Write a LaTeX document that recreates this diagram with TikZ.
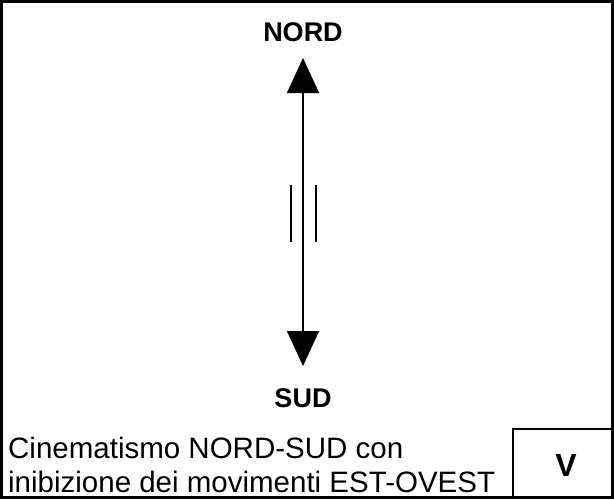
\documentclass[tikz,border=0pt]{standalone}
\usepackage{fontspec}
\setmainfont{Liberation Sans}
\usetikzlibrary{arrows.meta, positioning}

\begin{document}
\begin{tikzpicture}[
      x=1pt, y=-1pt,
      frame/.style = {draw, line width=2.5pt},
      axis/.style = {line width=1.4pt,
        {Triangle[length=35pt, width=32pt]}-{Triangle[length=35pt, width=32pt]}
      },
      tick/.style = {line width=1.4pt},
      pole/.style = {font=\bfseries\fontsize{27}{30}\selectfont},
      caption/.style = {font=\fontsize{29.5}{34}\selectfont, align=left,
        anchor=north west, inner sep=0pt},
      letter/.style = {font=\bfseries\fontsize{32}{36}\selectfont}
    ]
    \useasboundingbox (0,0) rectangle (614,499);
    % outer frame and the small box
    \draw[frame] (1.5,1.5) rectangle (612.5,497.5);
    \draw[frame] (513,429) rectangle (612.5,497.5);

    \node[pole] (nord) at (303,32) {NORD};
    \node[pole] (sud) at (303,398) {SUD};
    \coordinate (top) at (303,58);
    \coordinate (bot) at (303,366);
    \draw[axis] (bot) -- (top);

    % inhibition marks
    \coordinate (lt) at (291,185);
    \coordinate (lb) at (291,242);
    \coordinate (rt) at (316,185);
    \coordinate (rb) at (316,242);
    \draw[tick] (lt) -- (lb);
    \draw[tick] (rt) -- (rb);

    \node[caption] (text) at (8,437) {Cinematismo NORD-SUD con\\inibizione dei movimenti EST-OVEST};
    \node[letter] (v) at (566,465) {V};
\end{tikzpicture}
\end{document}
